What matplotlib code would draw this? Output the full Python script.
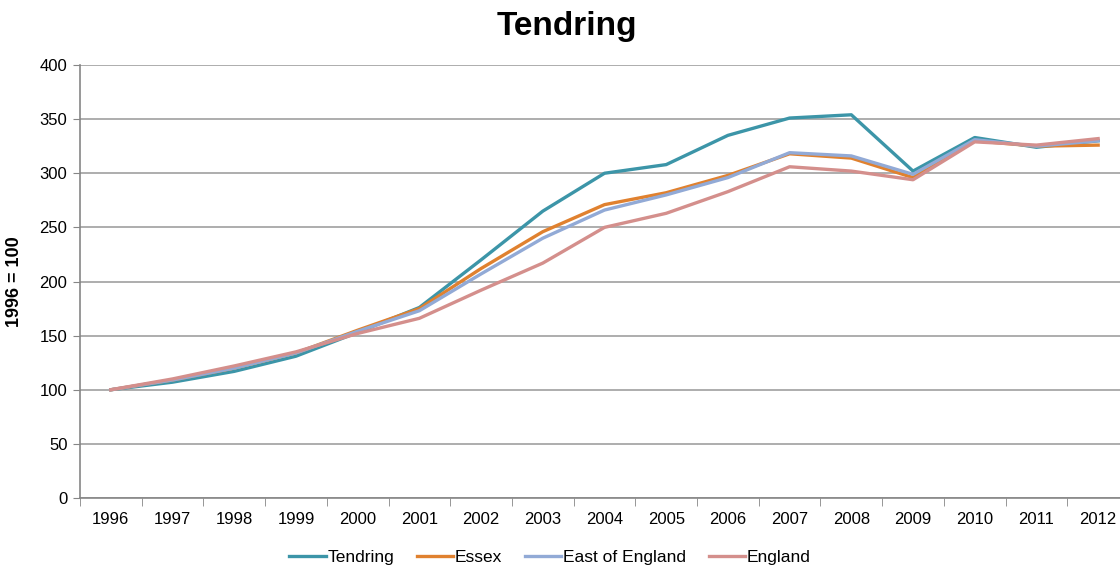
import matplotlib.pyplot as plt

plt.rcParams['font.family'] = ['Liberation Sans', 'DejaVu Sans']

years = [str(y) for y in range(1996, 2013)]
tendring = [100, 107, 117, 131, 153, 176, 220, 265, 300, 308, 335, 351, 354, 302, 333, 324, 330]
essex = [100, 109, 120, 134, 155, 175, 212, 246, 271, 282, 298, 318, 314, 296, 330, 325, 326]
east_of_england = [100, 109, 120, 134, 154, 173, 207, 240, 266, 280, 296, 319, 316, 299, 331, 325, 330]
england = [100, 110, 122, 135, 152, 166, 192, 217, 250, 263, 283, 306, 302, 294, 329, 326, 332]

series = [
    ('Tendring', tendring, '#3C95A8'),
    ('Essex', essex, '#E0812F'),
    ('East of England', east_of_england, '#92AAD6'),
    ('England', england, '#D48F8C'),
]

fig = plt.figure(figsize=(11.2, 5.69), dpi=100)
ax = fig.add_axes([80/1120, 1 - 498/569, 1049/1120, 433/569])

x = list(range(len(years)))
for name, vals, col in series:
    ax.plot(x, vals, color=col, linewidth=2.4, label=name, solid_joinstyle='round')

ax.set_xlim(-0.5, len(years) - 0.5)
ax.set_ylim(0, 400)
ax.set_yticks(range(0, 401, 50))
ax.set_xticks(x)
ax.set_xticklabels(years)
ax.set_xticks([i - 0.5 for i in range(len(years) + 1)], minor=True)
ax.tick_params(axis='x', which='major', length=0, labelsize=12, pad=10)
ax.tick_params(axis='x', which='minor', length=6, color='#868686')
ax.tick_params(axis='y', length=5, color='#868686', labelsize=12, pad=4)

ax.grid(axis='y', color='#A0A0A0', linewidth=1.2)
ax.set_axisbelow(True)
for s in ['top', 'right']:
    ax.spines[s].set_visible(False)
for s in ['left', 'bottom']:
    ax.spines[s].set_color('#868686')
    ax.spines[s].set_linewidth(1.2)

ax.set_ylabel('1996 = 100', fontsize=13, fontweight='bold', labelpad=12)
fig.text(567/1120, 1 - 26/569, 'Tendring', fontsize=24, fontweight='bold',
         ha='center', va='center')

fig.legend(loc='center', bbox_to_anchor=(550/1120, 1 - 557/569), ncol=4,
           frameon=False, fontsize=12.5, handlelength=2.1, handletextpad=0.1,
           columnspacing=1.3)

fig.savefig('out.png', dpi=100)
